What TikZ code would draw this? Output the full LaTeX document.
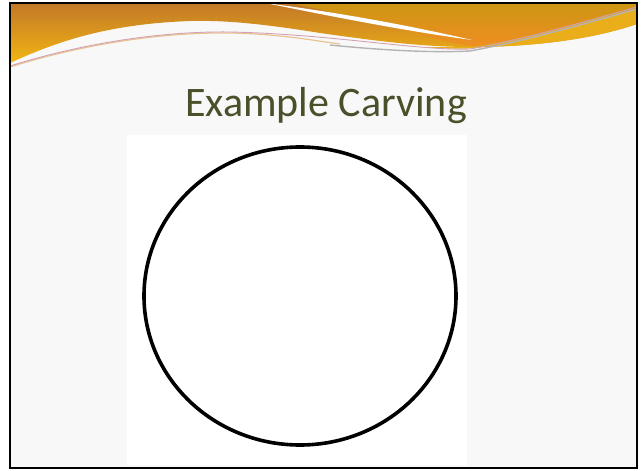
\documentclass[tikz,border=0pt]{standalone}
\usepackage{fontspec}
\setmainfont{Carlito}
\usetikzlibrary{positioning}
\definecolor{slidebg}{HTML}{F8F8F8}
\definecolor{titleink}{HTML}{4B4F2A}
\definecolor{bandtop}{HTML}{C27828}
\definecolor{bandlow}{HTML}{F2B612}
\definecolor{righttop}{HTML}{CC9612}
\definecolor{rightlow}{HTML}{EF8E22}
\definecolor{goldband}{HTML}{E9AE1A}
\definecolor{tanline}{HTML}{E9C492}
\definecolor{pinkline}{HTML}{D4A2B4}
\definecolor{grayline}{HTML}{B4B4B4}
\tikzset{
  titletext/.style ={font=\fontsize{42}{50}\selectfont,text=titleink,inner sep=0pt,anchor=base},
  carving/.style   ={draw=black,line width=3.6pt},
  frameline/.style ={draw=black,line width=2.6pt},
}
\begin{document}
\begin{tikzpicture}[x=1pt,y=-1pt]
  \useasboundingbox (0,0) rectangle (641,471);
  % slide background
  \fill[slidebg] (10,3) rectangle (637,468);
  % orange band
  \shade[top color=bandtop,bottom color=bandlow]
    (10,3) -- (637,3) -- (637,24)
    .. controls (590,40) and (530,47) .. (470,47)
    .. controls (420,47) and (370,40) .. (320,33)
    .. controls (270,25) and (230,20) .. (190,21)
    .. controls (110,24) and (60,40) .. (10,63) -- cycle;
  \shade[top color=righttop,bottom color=rightlow]
    (290,3) -- (637,3) -- (637,7)
    .. controls (590,22) and (530,38) .. (475,46)
    .. controls (440,44) and (420,30) .. (290,3) -- cycle;
  \fill[goldband]
    (420,47) .. controls (460,50) and (480,49) .. (500,44)
    .. controls (560,30) and (600,18) .. (637,8) -- (637,24)
    .. controls (590,40) and (530,47) .. (470,47) -- cycle;
  % white streak
  \fill[white]
    (265,3) .. controls (350,14) and (420,28) .. (472,40)
    .. controls (420,33) and (360,22) .. (295,9) -- cycle;
  % thin lines under the band
  \draw[tanline,line width=1.2pt]
    (10,67) .. controls (80,45) and (160,32) .. (230,33)
    .. controls (280,34) and (310,40) .. (340,44);
  \draw[grayline,line width=1.4pt]
    (330,45) .. controls (380,50) and (430,53) .. (470,51)
    .. controls (530,40) and (590,22) .. (637,9);
  \draw[pinkline,line width=0.9pt]
    (10,66) .. controls (80,44) and (160,31) .. (230,32)
    .. controls (330,34) and (420,51) .. (470,49)
    .. controls (530,38) and (590,20) .. (637,7);
  % title
  \node[titletext] (title) at (326,116) {Example Carving};
  % white picture area with the carving outline
  \fill[white] (127,135) rectangle (467,465);
  \draw[carving] (300,296) ellipse [x radius=156, y radius=149];
  % slide frame
  \draw[frameline] (10,3) rectangle (637,468);
\end{tikzpicture}
\end{document}
